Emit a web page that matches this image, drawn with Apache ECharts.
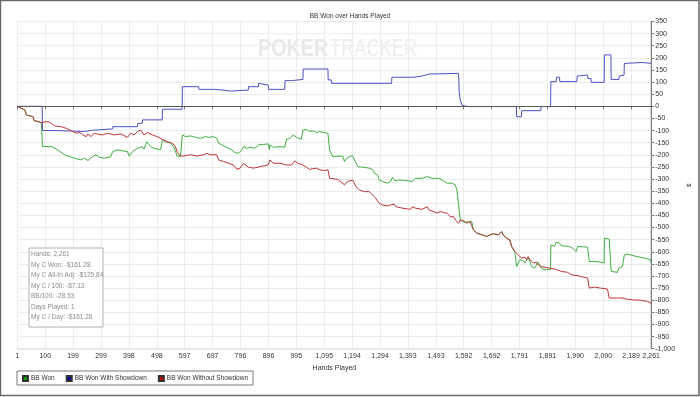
<!DOCTYPE html>
<html>
<head>
<meta charset="utf-8">
<script src="https://cdn.jsdelivr.net/npm/echarts@6/dist/echarts.min.js"></script>
<style>
html,body{margin:0;padding:0;background:#fff;}
#chart{width:700px;height:397px;}
</style>
</head>
<body>
<div id="chart"></div>
<script>
// ---- data (hand number, BB won) ----
const chartTitle = 'BB Won over Hands Played';
const seriesNames = ['BB Won', 'BB Won With Showdown', 'BB Won Without Showdown'];
const xTickValues = [1,100,199,299,398,498,597,697,796,896,995,1095,1194,1294,1393,1493,1592,1692,1791,1891,1990,2090,2189,2261];
const yMin = -1000, yMax = 350, yStep = 50;
const xMin = 1, xMax = 2261;

const bbWon = [[1,0],[27,-15],[33,-36],[39,-39],[57,-43],[60,-59],[75,-63],[86,-67],[89,-67],[90,-166],[122,-166],[128,-173],[145,-180],[169,-200],[175,-193],[187,-207],[204,-214],[228,-221],[240,-214],[252,-224],[269,-207],[281,-200],[293,-210],[311,-214],[334,-207],[340,-187],[358,-180],[393,-187],[399,-205],[411,-187],[429,-173],[446,-166],[452,-177],[462,-146],[476,-166],[488,-173],[511,-180],[517,-180],[518,-140],[529,-146],[547,-152],[558,-166],[570,-205],[582,-207],[588,-207],[589,-118],[600,-125],[618,-122],[636,-128],[653,-132],[671,-125],[677,-118],[683,-128],[700,-125],[712,-132],[718,-152],[730,-159],[742,-166],[754,-173],[765,-180],[777,-191],[789,-194],[801,-180],[807,-166],[818,-173],[830,-169],[848,-173],[860,-159],[878,-157],[895,-155],[899,-177],[901,-159],[913,-169],[937,-166],[954,-169],[960,-136],[972,-132],[984,-118],[996,-128],[1013,-136],[1019,-98],[1031,-95],[1043,-104],[1055,-101],[1066,-108],[1078,-104],[1108,-111],[1114,-180],[1125,-207],[1161,-205],[1167,-228],[1173,-217],[1184,-207],[1196,-204],[1202,-210],[1214,-249],[1232,-251],[1255,-255],[1267,-261],[1273,-276],[1285,-283],[1291,-304],[1303,-310],[1320,-317],[1332,-310],[1338,-293],[1344,-287],[1347,-307],[1361,-304],[1385,-306],[1409,-310],[1420,-297],[1444,-297],[1462,-290],[1468,-283],[1480,-297],[1503,-297],[1515,-304],[1533,-317],[1550,-317],[1562,-324],[1568,-345],[1574,-407],[1580,-469],[1586,-471],[1597,-480],[1609,-476],[1615,-482],[1621,-476],[1627,-510],[1639,-523],[1657,-530],[1674,-537],[1686,-530],[1698,-526],[1704,-523],[1716,-530],[1722,-523],[1727,-517],[1733,-530],[1745,-544],[1757,-551],[1763,-578],[1769,-592],[1775,-603],[1780,-606],[1781,-661],[1786,-654],[1792,-633],[1804,-636],[1810,-646],[1822,-626],[1828,-640],[1834,-661],[1845,-668],[1857,-643],[1869,-668],[1881,-674],[1902,-674],[1903,-572],[1916,-578],[1922,-561],[1934,-565],[1940,-575],[1969,-578],[1981,-586],[1993,-599],[1999,-578],[2034,-581],[2040,-640],[2046,-646],[2064,-640],[2093,-646],[2094,-544],[2111,-548],[2117,-548],[2118,-681],[2140,-685],[2146,-667],[2158,-661],[2164,-661],[2165,-613],[2176,-610],[2211,-620],[2235,-626],[2258,-633],[2261,-646]];

const bbWithShowdown = [[1,0],[89,0],[90,-100],[145,-100],[146,-104],[240,-104],[241,-99],[266,-99],[267,-93],[340,-93],[341,-84],[429,-84],[430,-70],[446,-70],[447,-56],[517,-56],[518,-12],[588,-12],[589,81],[647,81],[648,70],[700,70],[701,67],[736,67],[737,63],[760,63],[761,67],[824,67],[825,81],[860,81],[861,95],[866,95],[867,88],[895,88],[896,70],[954,70],[955,106],[978,106],[979,111],[1019,111],[1020,154],[1108,154],[1109,109],[1120,109],[1121,95],[1335,95],[1336,120],[1415,120],[1416,125],[1444,125],[1445,133],[1467,133],[1468,136],[1574,136],[1576,60],[1580,26],[1586,5],[1597,1],[1609,-1],[1780,-1],[1781,-43],[1798,-43],[1799,-18],[1867,-18],[1868,-1],[1902,-1],[1903,102],[1922,102],[1923,120],[1934,120],[1935,102],[1996,102],[1997,125],[2001,125],[2002,129],[2034,129],[2035,115],[2046,115],[2047,99],[2093,99],[2094,212],[2117,212],[2118,111],[2146,111],[2147,125],[2152,125],[2153,129],[2164,129],[2165,177],[2170,181],[2229,181],[2230,177],[2261,177]];

const bbWithoutShowdown = [[1,0],[27,-15],[33,-36],[39,-39],[57,-43],[60,-59],[75,-63],[86,-67],[110,-63],[122,-70],[134,-81],[157,-84],[175,-91],[181,-87],[199,-104],[210,-111],[222,-108],[234,-118],[246,-125],[252,-114],[263,-125],[275,-111],[287,-115],[305,-118],[322,-111],[346,-118],[370,-114],[393,-128],[405,-111],[417,-118],[429,-104],[440,-98],[452,-118],[464,-108],[482,-118],[499,-125],[517,-136],[535,-146],[553,-152],[564,-166],[571,-190],[582,-205],[594,-205],[618,-200],[641,-205],[665,-200],[677,-194],[689,-200],[712,-200],[718,-221],[736,-228],[754,-235],[771,-242],[783,-260],[795,-255],[807,-235],[813,-232],[824,-251],[842,-255],[866,-249],[895,-242],[901,-221],[913,-235],[937,-235],[960,-242],[978,-242],[990,-225],[1001,-235],[1019,-242],[1031,-251],[1043,-260],[1066,-255],[1078,-262],[1096,-265],[1108,-262],[1114,-297],[1143,-301],[1149,-304],[1167,-324],[1179,-310],[1196,-304],[1208,-331],[1220,-345],[1238,-352],[1255,-352],[1261,-359],[1273,-372],[1291,-400],[1303,-407],[1320,-411],[1332,-407],[1344,-403],[1350,-414],[1373,-420],[1403,-425],[1409,-414],[1420,-420],[1444,-425],[1462,-414],[1468,-427],[1485,-434],[1497,-441],[1509,-434],[1521,-438],[1533,-441],[1544,-455],[1556,-455],[1564,-471],[1574,-482],[1580,-469],[1592,-471],[1603,-482],[1615,-476],[1621,-482],[1627,-510],[1639,-523],[1657,-530],[1674,-537],[1686,-530],[1698,-526],[1704,-523],[1716,-530],[1722,-523],[1727,-517],[1733,-530],[1745,-544],[1757,-551],[1763,-578],[1775,-599],[1780,-606],[1786,-612],[1798,-626],[1810,-622],[1816,-633],[1822,-620],[1828,-633],[1840,-646],[1851,-643],[1857,-654],[1869,-661],[1899,-668],[1916,-671],[1940,-681],[1963,-685],[1975,-695],[1999,-699],[2034,-709],[2040,-750],[2058,-746],[2081,-750],[2105,-754],[2111,-791],[2140,-791],[2146,-787],[2158,-791],[2176,-796],[2199,-799],[2223,-800],[2247,-805],[2258,-809],[2261,-815]];

const statsLines = ['Hands: 2,261','My C Won: -$161.28','My C All-In Adj: -$125.84','My C / 100: -$7.13','BB/100: -28.53','Days Played: 1','My C / Day: -$161.28'];

// ---- chart ----
const FONT = 'Liberation Sans';
const fmt = v => Number(v).toLocaleString('en-US');
const chart = echarts.init(document.getElementById('chart'), null, {renderer: 'canvas'});

const statsGraphic = statsLines.map((t, i) => ({
  type: 'text', x: 31, y: 251 + i * 10.5, z: 11, silent: true,
  style: {text: t, fill: '#8a8a8a', font: '6.5px ' + FONT, verticalAlign: 'top', align: 'left'}
}));

const option = {
  animation: false,
  backgroundColor: '#fff',
  title: {
    text: chartTitle, left: 'center', top: 8,
    textStyle: {fontSize: 6.5, fontWeight: 'normal', color: '#333', fontFamily: FONT}
  },
  grid: {left: 17.5, right: 44.3, top: 21.5, bottom: 48.3, show: true, borderColor: '#7a7a7a', borderWidth: 1},
  legend: {
    left: 17, top: 371, orient: 'horizontal',
    padding: [4, 5, 3, 5], itemGap: 11, itemWidth: 5, itemHeight: 5,
    icon: 'rect', borderColor: '#7a7a7a', borderWidth: 1, borderRadius: 0,
    textStyle: {fontSize: 6.5, color: '#333', fontFamily: FONT, padding: [0, 0, 0, -2]},
    data: seriesNames
  },
  xAxis: {
    type: 'value', min: xMin, max: xMax,
    name: 'Hands Played', nameLocation: 'middle', nameGap: 15,
    nameTextStyle: {fontSize: 7, color: '#333', fontFamily: FONT},
    axisLine: {show: true, lineStyle: {color: '#7a7a7a'}},
    axisTick: {show: true, length: 3, customValues: xTickValues, lineStyle: {color: '#7a7a7a'}},
    axisLabel: {customValues: xTickValues, formatter: fmt, fontSize: 7, color: '#333', fontFamily: FONT, margin: 4},
    splitLine: {show: true, lineStyle: {color: '#ececec', width: 1}}
  },
  yAxis: {
    type: 'value', position: 'right', min: yMin, max: yMax, interval: yStep,
    name: '$', nameLocation: 'middle', nameGap: 30, nameRotate: -90,
    nameTextStyle: {fontSize: 6, color: '#333', fontFamily: FONT},
    axisLine: {show: true, lineStyle: {color: '#7a7a7a'}},
    axisTick: {show: true, length: 3, lineStyle: {color: '#7a7a7a'}},
    axisLabel: {formatter: fmt, fontSize: 7, color: '#333', fontFamily: FONT, margin: 4},
    splitLine: {show: true, lineStyle: {color: '#ececec', width: 1}}
  },
  series: [
    {
      name: seriesNames[0], type: 'line', data: bbWon, showSymbol: false, symbol: 'none',
      lineStyle: {color: '#3fae3f', width: 1}, itemStyle: {color: '#00a000', borderColor: '#333', borderWidth: 0.5}, z: 3
    },
    {
      name: seriesNames[1], type: 'line', data: bbWithShowdown, showSymbol: false, symbol: 'none',
      lineStyle: {color: '#4f4fc8', width: 1}, itemStyle: {color: '#0000a0', borderColor: '#333', borderWidth: 0.5}, z: 3,
      markLine: {
        silent: true, symbol: 'none', label: {show: false},
        lineStyle: {color: '#5a5a5a', width: 1, type: 'solid'},
        data: [{yAxis: 0}]
      }
    },
    {
      name: seriesNames[2], type: 'line', data: bbWithoutShowdown, showSymbol: false, symbol: 'none',
      lineStyle: {color: '#bb3535', width: 1}, itemStyle: {color: '#c00000', borderColor: '#333', borderWidth: 0.5}, z: 4
    }
  ],
  graphic: [
    {type: 'rect', x: 0, y: 0, z: -10, silent: true,
     shape: {x: 0.5, y: 0.5, width: 698.5, height: 395}, style: {fill: 'none', stroke: '#6a6a6a', lineWidth: 1.5}},
    {type: 'text', x: 258, y: 37, scaleX: 0.82, z: 0, silent: true,
     style: {text: 'POKER', fill: '#e8e8e8', font: 'bold 24px ' + FONT}},
    {type: 'text', x: 330, y: 37, scaleX: 0.76, z: 0, silent: true,
     style: {text: 'TRACKER', fill: '#eeeeee', font: '24px ' + FONT}},
    {type: 'rect', x: 29, y: 248, z: 10, silent: true,
     shape: {x: 0, y: 0, width: 74, height: 79}, style: {fill: '#fff', stroke: '#b0b0b0', lineWidth: 1}}
  ].concat(statsGraphic)
};
chart.setOption(option);
</script>
</body>
</html>
